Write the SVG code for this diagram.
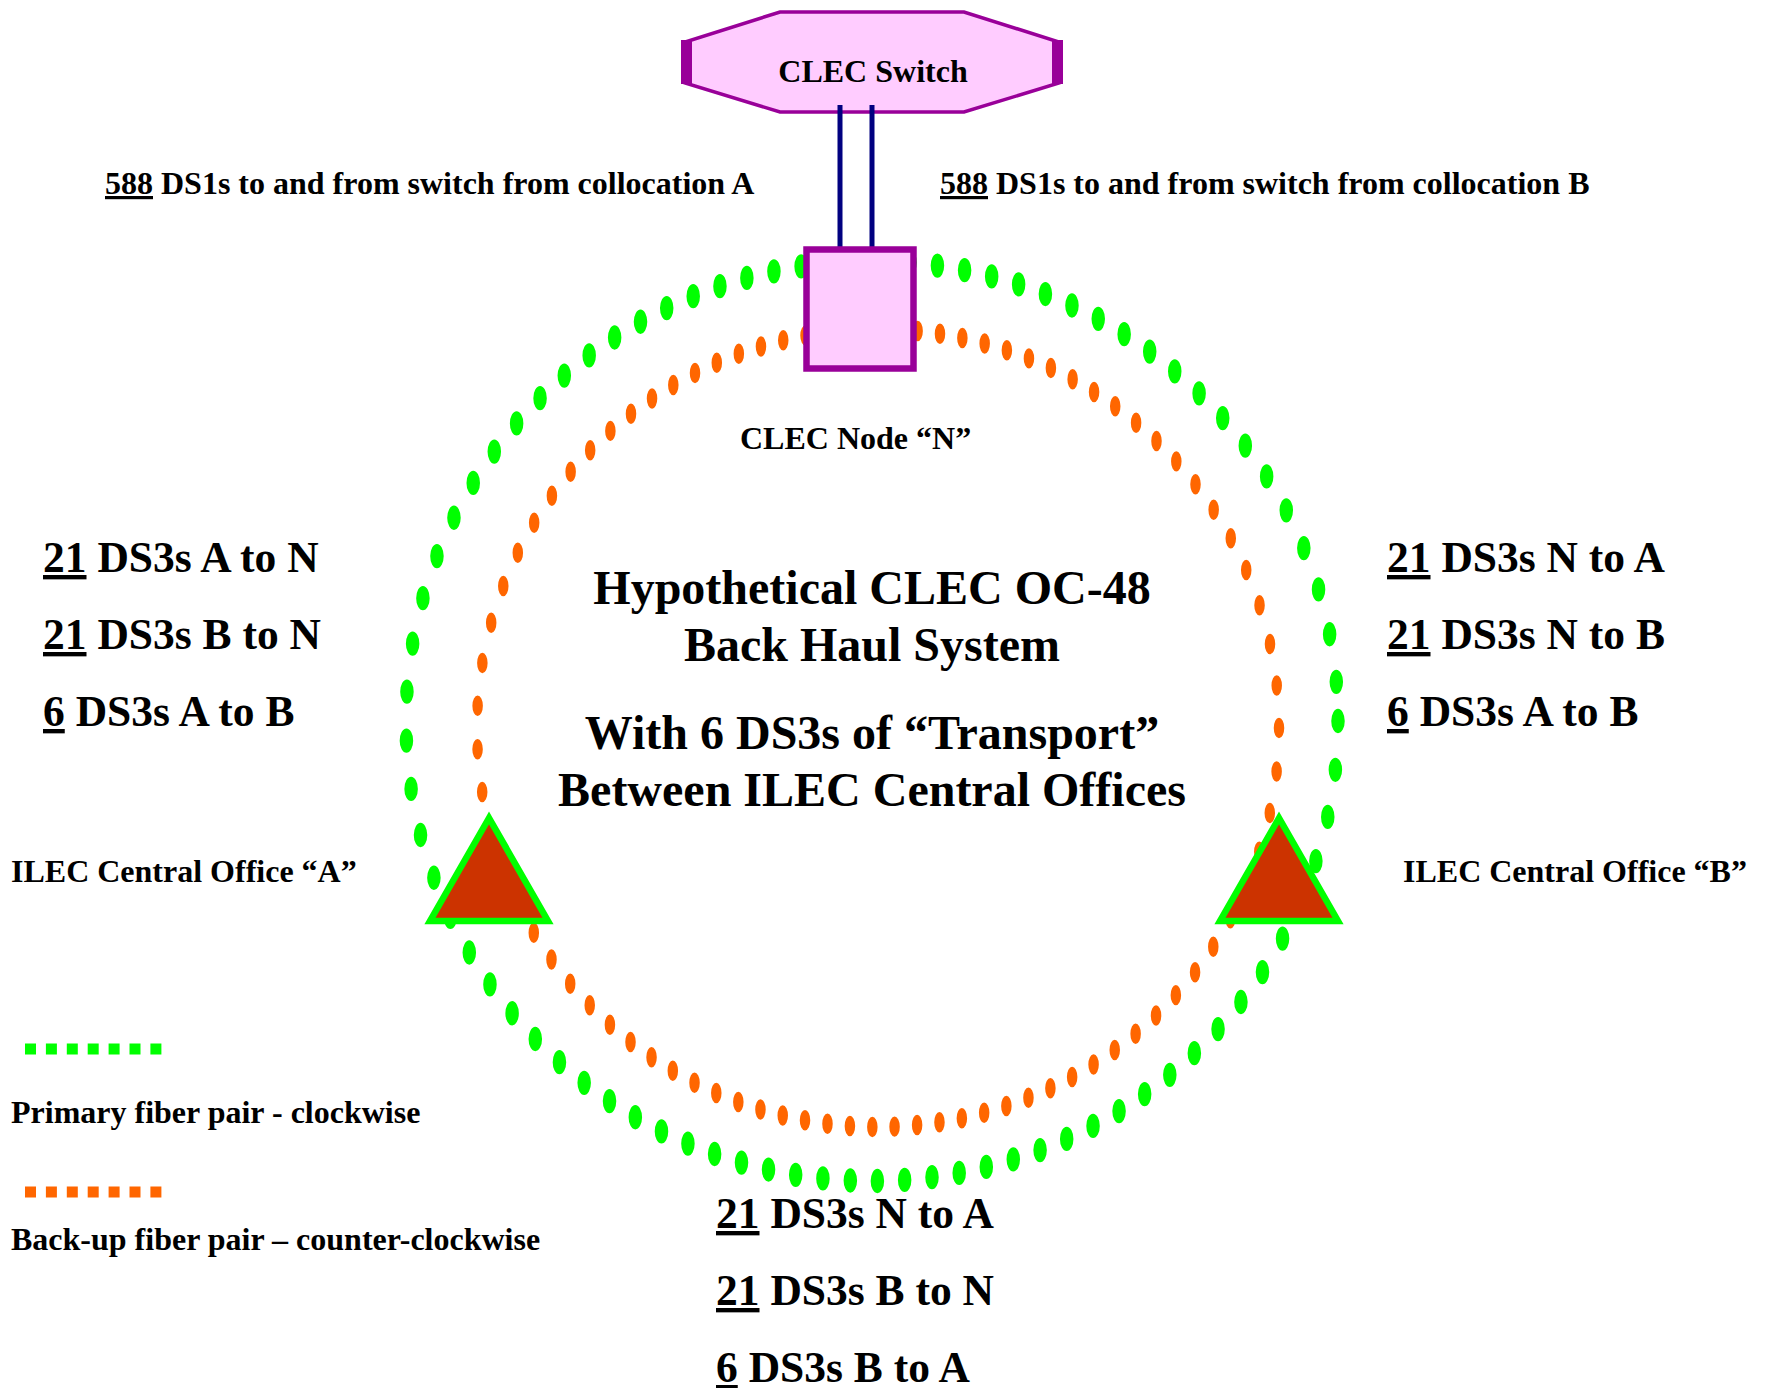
<svg xmlns="http://www.w3.org/2000/svg" width="1767" height="1388" viewBox="0 0 1767 1388">
<style>
text{font-family:"Liberation Serif","Times New Roman",serif;font-weight:bold;fill:#000}
.u{text-decoration:underline}
.s32{font-size:32px}
.s43{font-size:43.5px}
.s48{font-size:48px}
.pink{fill:#FFCCFF;stroke:#990099}
.tri{fill:#CC3300;stroke:#00FF00;stroke-width:6.5;stroke-linejoin:miter}
</style>
<rect width="1767" height="1388" fill="#fff"/>
<g id="switch">
<polygon class="pink" stroke-width="3.5" points="780,12 964,12 1059,42 1059,83 964,112 780,112 685,83 685,42"/>
<rect x="681" y="40" width="11" height="44" fill="#990099"/>
<rect x="1052" y="40" width="11" height="44" fill="#990099"/>
<text class="s32" x="873" y="82" text-anchor="middle">CLEC Switch</text>
</g>
<g id="connectors" fill="none">
<ellipse transform="translate(872,721) scale(1,1.8)" rx="466" ry="255.56" stroke="#00FF00" stroke-width="13.5" stroke-linecap="round" stroke-dasharray="0 27.3"/>
<ellipse transform="translate(878,728) scale(1,1.95)" rx="401" ry="204.6" stroke="#FF6600" stroke-width="10.5" stroke-linecap="round" stroke-dasharray="0 22.45"/>
<line x1="840" y1="105" x2="840" y2="250" stroke="#000080" stroke-width="5"/>
<line x1="872" y1="105" x2="872" y2="250" stroke="#000080" stroke-width="5"/>
</g>
<g id="node-n">
<rect class="pink" x="806.5" y="249.5" width="107" height="119" stroke-width="6.5"/>
<text class="s32" x="740" y="449">CLEC Node “N”</text>
</g>
<g id="co-a">
<polygon class="tri" points="489,818 430,921 548,921"/>
<text class="s32" x="11" y="882">ILEC Central Office “A”</text>
</g>
<g id="co-b">
<polygon class="tri" points="1279,818 1220,921 1338,921"/>
<text class="s32" x="1403" y="882">ILEC Central Office “B”</text>
</g>
<g id="top-labels">
<text class="s32" x="105" y="194"><tspan class="u">588</tspan> DS1s to and from switch from collocation A</text>
<text class="s32" x="940" y="194"><tspan class="u">588</tspan> DS1s to and from switch from collocation B</text>
</g>
<g id="title">
<text class="s48" x="872" y="604" text-anchor="middle">Hypothetical CLEC OC-48</text>
<text class="s48" x="872" y="661" text-anchor="middle">Back Haul System</text>
<text class="s48" x="872" y="749" text-anchor="middle">With 6 DS3s of “Transport”</text>
<text class="s48" x="872" y="806" text-anchor="middle">Between ILEC Central Offices</text>
</g>
<g id="left-labels">
<text class="s43" x="43" y="572"><tspan class="u">21</tspan> DS3s A to N</text>
<text class="s43" x="43" y="649"><tspan class="u">21</tspan> DS3s B to N</text>
<text class="s43" x="43" y="726"><tspan class="u">6</tspan> DS3s A to B</text>
</g>
<g id="right-labels">
<text class="s43" x="1387" y="572"><tspan class="u">21</tspan> DS3s N to A</text>
<text class="s43" x="1387" y="649"><tspan class="u">21</tspan> DS3s N to B</text>
<text class="s43" x="1387" y="726"><tspan class="u">6</tspan> DS3s A to B</text>
</g>
<g id="bottom-labels">
<text class="s43" x="716" y="1228"><tspan class="u">21</tspan> DS3s N to A</text>
<text class="s43" x="716" y="1305"><tspan class="u">21</tspan> DS3s B to N</text>
<text class="s43" x="716" y="1382"><tspan class="u">6</tspan> DS3s B to A</text>
</g>
<g id="legend">
<line x1="25" y1="1049" x2="162" y2="1049" stroke="#00FF00" stroke-width="11" stroke-dasharray="11 9.9"/>
<text class="s32" x="11" y="1123">Primary fiber pair - clockwise</text>
<line x1="25" y1="1192" x2="162" y2="1192" stroke="#FF6600" stroke-width="11" stroke-dasharray="11 9.9"/>
<text class="s32" x="11" y="1250">Back-up fiber pair – counter-clockwise</text>
</g>
</svg>
